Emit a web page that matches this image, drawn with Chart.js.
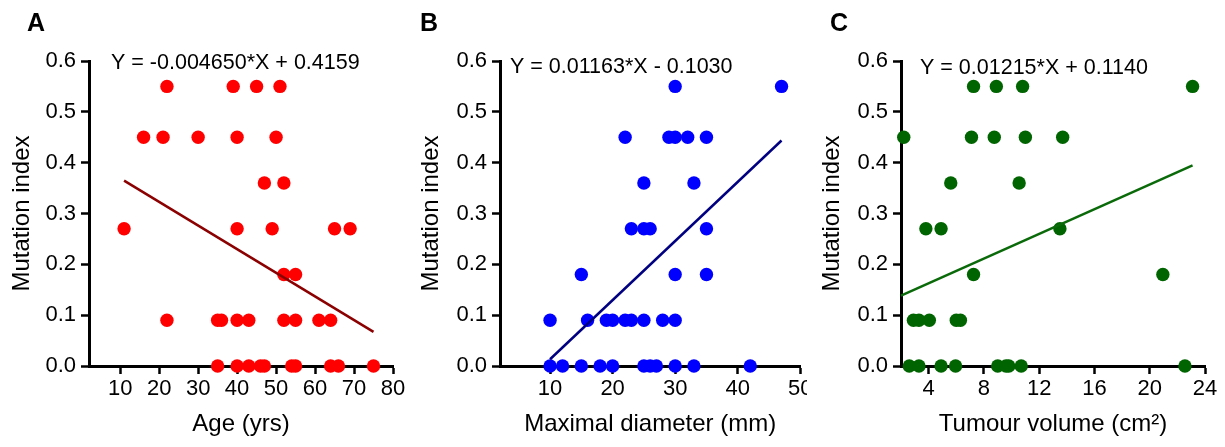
<!DOCTYPE html>
<html>
<head>
<meta charset="utf-8">
<script src="https://cdn.jsdelivr.net/npm/chart.js@4.4.1/dist/chart.umd.min.js"></script>
<style>
  body { margin: 0; background: #fff; width: 1225px; height: 447px; position: relative; overflow: hidden; }
  canvas { position: absolute; top: 0; }
</style>
</head>
<body>
<canvas id="chartA" width="410" height="447" style="left:0px"></canvas>
<canvas id="chartB" width="397" height="447" style="left:410px"></canvas>
<canvas id="chartC" width="410" height="447" style="left:815px"></canvas>
<script>
// shared y axis
const yTicks = [0, 0.1, 0.2, 0.3, 0.4, 0.5, 0.6];

// A - age
const ageX = [22, 39, 45, 51,
  16, 21, 30, 40, 50,
  47, 52,
  11, 40, 49, 65, 69,
  52, 55,
  22, 35, 36, 40, 43, 52, 55, 61, 64,
  35, 40, 43, 46, 47, 54, 55, 64, 66, 75];
const ageY = [0.55, 0.55, 0.55, 0.55,
  0.45, 0.45, 0.45, 0.45, 0.45,
  0.36, 0.36,
  0.27, 0.27, 0.27, 0.27, 0.27,
  0.18, 0.18,
  0.09, 0.09, 0.09, 0.09, 0.09, 0.09, 0.09, 0.09, 0.09,
  0, 0, 0, 0, 0, 0, 0, 0, 0, 0];
const ageTicks = [10, 20, 30, 40, 50, 60, 70, 80];

// B - maximal diameter
const diamX = [30, 47,
  22, 29, 30, 32, 35,
  25, 33,
  23, 25, 26, 35,
  15, 30, 35,
  10, 16, 19, 20, 22, 23, 25, 28, 30,
  10, 12, 15, 18, 20, 25, 26, 27, 30, 33, 42];
const diamY = [0.55, 0.55,
  0.45, 0.45, 0.45, 0.45, 0.45,
  0.36, 0.36,
  0.27, 0.27, 0.27, 0.27,
  0.18, 0.18, 0.18,
  0.09, 0.09, 0.09, 0.09, 0.09, 0.09, 0.09, 0.09, 0.09,
  0, 0, 0, 0, 0, 0, 0, 0, 0, 0, 0];
const diamTicks = [10, 20, 30, 40, 50];

// C - tumour volume
const volX = [7.25, 8.9, 10.8, 23.1,
  2.2, 7.1, 8.75, 11.0, 13.7,
  5.6, 10.55,
  3.8, 4.9, 13.5,
  7.25, 20.95,
  2.9, 3.3, 4.05, 6.0, 6.3,
  2.6, 3.3, 4.9, 5.95, 9.0, 9.6, 9.8, 10.7, 22.55];
const volY = [0.55, 0.55, 0.55, 0.55,
  0.45, 0.45, 0.45, 0.45, 0.45,
  0.36, 0.36,
  0.27, 0.27, 0.27,
  0.18, 0.18,
  0.09, 0.09, 0.09, 0.09, 0.09,
  0, 0, 0, 0, 0, 0, 0, 0, 0];
const volTicks = [4, 8, 12, 16, 20, 24];

// linear fits shown on the panels
const fitSlope = [-0.004650, 0.01163, 0.01215];
const fitIntercept = [0.4159, -0.1030, 0.1140];
const fitRange = [[11, 75], [10, 47], [2, 23.1]];
const fitText = ['Y = -0.004650*X + 0.4159', 'Y = 0.01163*X - 0.1030', 'Y = 0.01215*X + 0.1140'];

const FONT = "'Liberation Sans', Arial, sans-serif";

function makePanel(id, opt) {
  const pts = opt.xs.map((x, i) => ({ x: x, y: opt.ys[i] }));
  const k = opt.fit;
  const fitLine = fitRange[k].map(x => ({ x: x, y: fitSlope[k] * x + fitIntercept[k] }));

  const labels = {
    id: 'labels' + id,
    afterDraw(chart) {
      const ctx = chart.ctx;
      ctx.save();
      ctx.fillStyle = '#000';
      ctx.textBaseline = 'middle';
      ctx.textAlign = 'left';
      ctx.font = 'bold 25px ' + FONT;
      ctx.fillText(opt.letter, opt.letterX, 24);
      ctx.font = '21.5px ' + FONT;
      ctx.fillText(fitText[k], opt.eqX, opt.eqY);
      ctx.restore();
    }
  };

  return new Chart(document.getElementById(id), {
    type: 'scatter',
    data: {
      datasets: [{
        data: pts,
        backgroundColor: opt.dot,
        borderWidth: 0,
        pointRadius: 6.7,
        pointHoverRadius: 6.7,
        clip: false,
        order: 2
      }, {
        type: 'line',
        data: fitLine,
        borderColor: opt.line,
        borderWidth: 2.5,
        pointRadius: 0,
        fill: false,
        clip: false,
        order: 1
      }]
    },
    options: {
      responsive: false,
      animation: false,
      events: [],
      layout: { padding: { top: 61, right: opt.padRight, left: 0, bottom: 0 } },
      plugins: { legend: { display: false }, tooltip: { enabled: false } },
      scales: {
        x: {
          type: 'linear',
          min: opt.xmin,
          max: opt.xmax,
          afterBuildTicks: s => { s.ticks = opt.ticks.map(v => ({ value: v })); },
          afterFit: s => { s.height = 81; s.paddingLeft = 0; s.paddingRight = 0; },
          ticks: {
            color: '#000',
            font: { family: FONT, size: 22 },
            padding: 2,
            maxRotation: 0,
            autoSkip: false,
            callback: v => String(v)
          },
          grid: { drawOnChartArea: false, drawTicks: true, tickLength: 8, tickWidth: 2.5, tickColor: '#000' },
          border: { color: '#000', width: 3 },
          title: {
            display: true,
            text: opt.xTitle,
            color: '#000',
            font: { family: FONT, size: 24 },
            padding: { top: 0, bottom: 8 }
          }
        },
        y: {
          type: 'linear',
          min: 0,
          max: 0.6,
          afterBuildTicks: s => { s.ticks = yTicks.map(v => ({ value: v })); },
          afterFit: s => { s.width = opt.yWidth; s.paddingTop = 0; s.paddingBottom = 0; },
          ticks: {
            color: '#000',
            font: { family: FONT, size: 22 },
            padding: 5,
            callback: v => v.toFixed(1)
          },
          grid: { drawOnChartArea: false, drawTicks: true, tickLength: 8, tickWidth: 2.5, tickColor: '#000' },
          border: { color: '#000', width: 3 },
          title: {
            display: true,
            text: 'Mutation index',
            color: '#000',
            font: { family: FONT, size: 24 },
            padding: { top: opt.yTitlePad, bottom: 0 }
          }
        }
      }
    },
    plugins: [labels]
  });
}

makePanel('chartA', {
  xs: ageX, ys: ageY, fit: 0, ticks: ageTicks, xmin: 2, xmax: 80,
  dot: '#ff0000', line: '#8b0000', xTitle: 'Age (yrs)',
  yWidth: 89, padRight: 17, yTitlePad: 7.6,
  letter: 'A', letterX: 27, eqX: 111, eqY: 63
});
makePanel('chartB', {
  xs: diamX, ys: diamY, fit: 1, ticks: diamTicks, xmin: 2, xmax: 50,
  dot: '#0000ff', line: '#000080', xTitle: 'Maximal diameter (mm)',
  yWidth: 90, padRight: 3, yTitlePad: 7.3,
  letter: 'B', letterX: 10, eqX: 100, eqY: 67
});
makePanel('chartC', {
  xs: volX, ys: volY, fit: 2, ticks: volTicks, xmin: 2, xmax: 24,
  dot: '#006400', line: '#0a6a0a', xTitle: 'Tumour volume (cm\u00b2)',
  yWidth: 86, padRight: 20, yTitlePad: 3,
  letter: 'C', letterX: 15, eqX: 105, eqY: 68
});
</script>
</body>
</html>
